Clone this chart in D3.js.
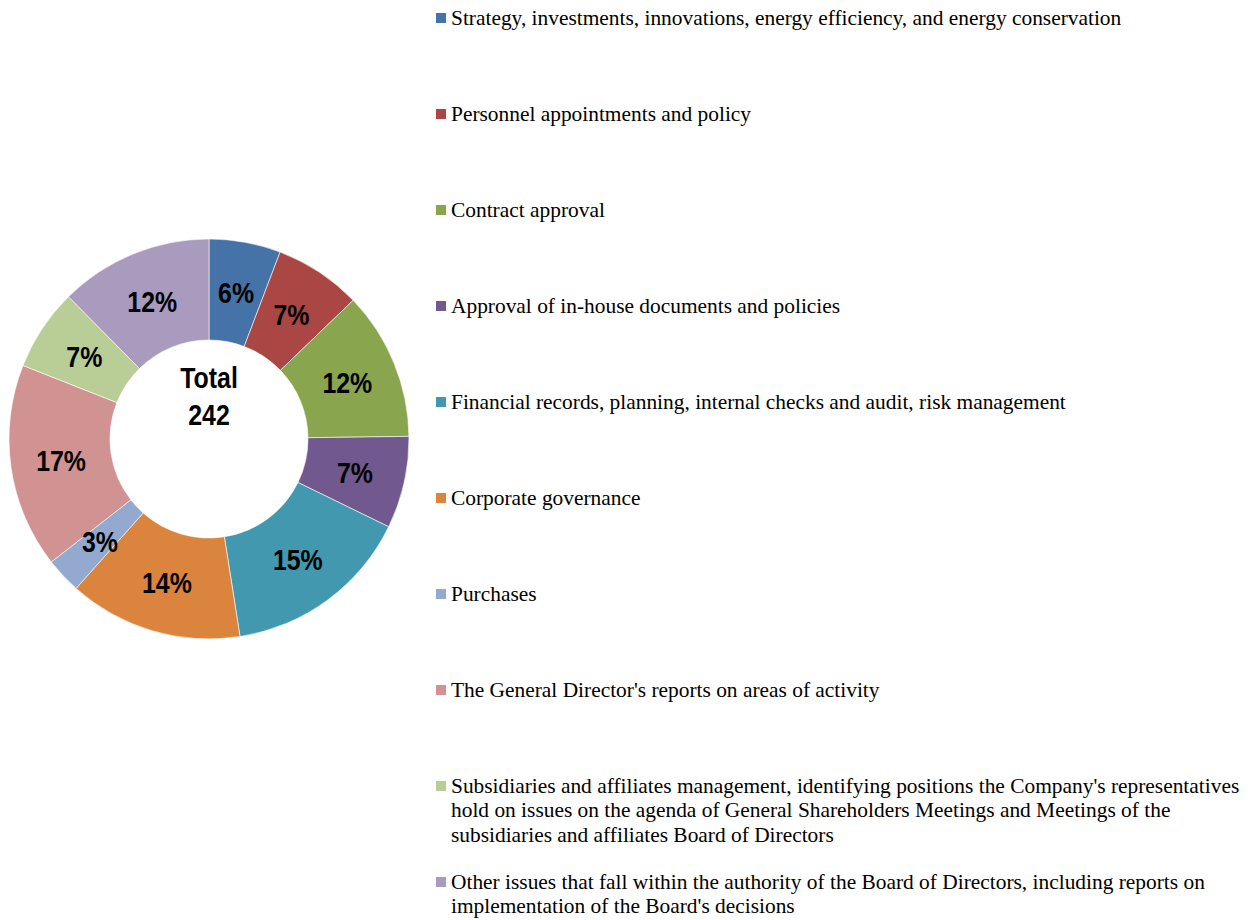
<!DOCTYPE html>
<html><head><meta charset="utf-8">
<script src="https://cdn.jsdelivr.net/npm/d3@7"></script>
<style>body{margin:0;background:#fff;}svg{display:block;}</style>
</head><body>
<svg id="c" width="1252" height="920"></svg>
<script>
const categories = [
  "Strategy, investments, innovations, energy efficiency, and energy conservation",
  "Personnel appointments and policy",
  "Contract approval",
  "Approval of in-house documents and policies",
  "Financial records, planning, internal checks and audit, risk management",
  "Corporate governance",
  "Purchases",
  "The General Director's reports on areas of activity",
  "Subsidiaries and affiliates management, identifying positions the Company's representatives hold on issues on the agenda of General Shareholders Meetings and Meetings of the subsidiaries and affiliates Board of Directors",
  "Other issues that fall within the authority of the Board of Directors, including reports on implementation of the Board's decisions"
];
const values = [14, 17, 29, 18, 37, 34, 7, 40, 16, 30];
const colors = ["#4572A7","#AA4643","#89A54E","#71588F","#4198AF","#DB843D","#93A9CF","#D19392","#B9CD96","#A99BBD"];
const legendLines = [
  ["Strategy, investments, innovations, energy efficiency, and energy conservation"],
  ["Personnel appointments and policy"],
  ["Contract approval"],
  ["Approval of in-house documents and policies"],
  ["Financial records, planning, internal checks and audit, risk management"],
  ["Corporate governance"],
  ["Purchases"],
  ["The General Director's reports on areas of activity"],
  ["Subsidiaries and affiliates management, identifying positions the Company's representatives",
   "hold on issues on the agenda of General Shareholders Meetings and Meetings of the",
   "subsidiaries and affiliates Board of Directors"],
  ["Other issues that fall within the authority of the Board of Directors, including reports on",
   "implementation of the Board's decisions"]
];
const totalLabel = ["Total", "242"];

const svg = d3.select("#c");
const cx = 209, cy = 439, R = 200, r0 = 99;
const total = d3.sum(values);
const pie = d3.pie().sort(null).value(d => d)(values);
const arc = d3.arc().innerRadius(r0).outerRadius(R);
const labelArc = d3.arc().innerRadius((R + r0) / 2).outerRadius((R + r0) / 2);
const g = svg.append("g").attr("transform", `translate(${cx},${cy})`);
g.selectAll("path").data(pie).join("path")
  .attr("d", arc).attr("fill", (d, i) => colors[i])
  .attr("stroke", "#fff").attr("stroke-width", 0.6);
const narrow = "'Liberation Sans Narrow','Arial Narrow','Liberation Sans',Arial,sans-serif";
g.selectAll("text.pct").data(pie).join("text").attr("class", "pct")
  .attr("transform", d => `translate(${labelArc.centroid(d)}) scale(0.83,1)`)
  .attr("text-anchor", "middle").attr("dy", "0.36em")
  .style("font-family", narrow).style("font-weight", "bold").style("font-size", "30px")
  .text(d => Math.round(d.value / total * 100) + "%");
g.append("text").attr("text-anchor", "middle").attr("transform", "scale(0.83,1)")
  .style("font-family", narrow).style("font-weight", "bold").style("font-size", "30px")
  .selectAll("tspan").data(totalLabel).join("tspan")
  .attr("x", 0).attr("y", (d, i) => -51 + i * 37).text(d => d);

const leg = svg.append("g");
const rowY = d3.scaleLinear().domain([0, 1]).range([18, 114]);
legendLines.forEach((lines, i) => {
  const y = rowY(i);
  leg.append("rect").attr("x", 436).attr("y", y - 5).attr("width", 10).attr("height", 10).attr("fill", colors[i]);
  const t = leg.append("text").style("font-family", "'Liberation Serif','Times New Roman',serif").style("font-size", "21.4px").attr("fill", "#000");
  lines.forEach((ln, j) => t.append("tspan").attr("x", 451).attr("y", y + 6.5 + j * 24.5).text(ln));
});
</script>
</body></html>
